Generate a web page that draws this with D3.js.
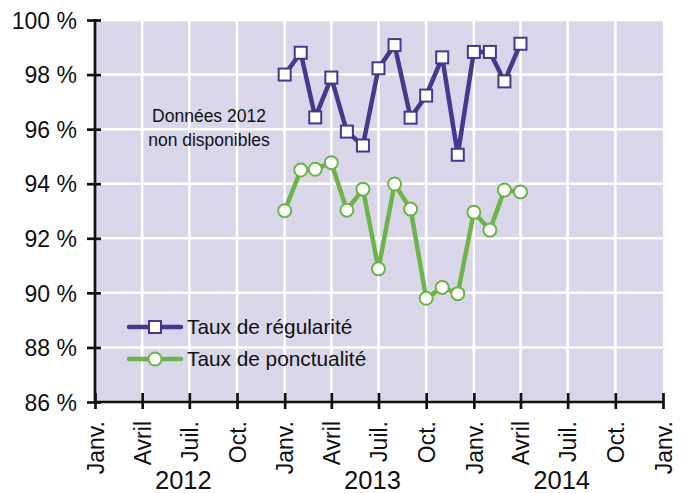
<!DOCTYPE html>
<html><head><meta charset="utf-8">
<script src="https://cdn.jsdelivr.net/npm/d3@7"></script>
<style>body{margin:0;background:#fff}svg{display:block;font-family:"Liberation Sans",Arial,sans-serif}</style>
</head><body><svg id="c" width="684" height="493"></svg>
<script>
const months = ["2013-01","2013-02","2013-03","2013-04","2013-05","2013-06","2013-07","2013-08","2013-09","2013-10","2013-11","2013-12","2014-01","2014-02","2014-03","2014-04"];
const regularite = [98.0,98.8,96.43,97.89,95.91,95.4,98.23,99.08,96.42,97.23,98.63,95.06,98.83,98.83,97.75,99.13];
const ponctualite = [93.01,94.5,94.53,94.77,93.03,93.8,90.88,93.99,93.07,89.8,90.2,89.97,92.95,92.3,93.77,93.7];
const yTicks = [86,88,90,92,94,96,98,100];
const quarterLabels = ["Janv.","Avril","Juil.","Oct."];
const years = [2012,2013,2014];
const seriesNames = ["Taux de régularité","Taux de ponctualité"];
const colors = ["#46378f","#6bb545"];

const svg = d3.select("#c");
const L=95,R=663,T=20,B=402;
const parse = d3.timeParse("%Y-%m");
const x = d3.scaleTime().domain([new Date(2012,0,1),new Date(2015,0,1)]).range([L,R]);
const y = d3.scaleLinear().domain([86,100]).range([B,T]);
const qTicks = d3.timeMonth.every(3).range(new Date(2012,0,1), new Date(2015,0,2));

svg.append("rect").attr("x",L).attr("y",T).attr("width",R-L).attr("height",B-T).attr("fill","#d9d6ea");
// grid
svg.append("g").selectAll("line").data(yTicks.slice(1)).join("line")
  .attr("x1",L).attr("x2",R).attr("y1",d=>y(d)).attr("y2",d=>y(d)).attr("stroke","#fff").attr("stroke-width",2.5);
svg.append("g").selectAll("line").data(qTicks.slice(1,-1)).join("line")
  .attr("y1",T).attr("y2",B).attr("x1",d=>x(d)).attr("x2",d=>x(d)).attr("stroke","#fff").attr("stroke-width",2.5);

// axes
const ya = svg.append("g").attr("transform",`translate(${L},0)`)
  .call(d3.axisLeft(y).tickValues(yTicks).tickFormat(d=>d+" %").tickSizeInner(8).tickSizeOuter(0).tickPadding(10));
ya.selectAll(".tick line").attr("stroke","#111").attr("stroke-width",2.7).attr("x2",-8).attr("x1",6);
ya.select(".domain").attr("stroke","#111").attr("stroke-width",2.7).attr("d",`M0,${T-1}V${B+1}`);
ya.selectAll("text").attr("font-size",23).attr("fill","#111").attr("font-family","Liberation Sans, Arial, sans-serif").attr("x",-18).attr("dy","0.36em");

const xa = svg.append("g").attr("transform",`translate(0,${B})`)
  .call(d3.axisBottom(x).tickValues(qTicks).tickFormat((d)=>quarterLabels[d.getMonth()/3]).tickSizeOuter(0));
xa.selectAll(".tick line").attr("stroke","#111").attr("stroke-width",2.7).attr("y1",-9).attr("y2",7);
xa.select(".domain").attr("stroke","#111").attr("stroke-width",2.7).attr("d",`M${L-1},0H${R+1}`);
xa.selectAll("text").attr("font-size",23).attr("fill","#111").attr("font-family","Liberation Sans, Arial, sans-serif")
  .attr("transform","rotate(-90)").attr("text-anchor","end").attr("x",-19).attr("y",0).attr("dy","0.36em");

svg.append("g").selectAll("text").data(years).join("text")
  .attr("x",d=>x(new Date(d,6,1))-6).attr("y",489).attr("text-anchor","middle")
  .attr("font-size",25.5).attr("fill","#111").text(d=>d);

// annotation
const ann = svg.append("text").attr("x",209).attr("text-anchor","middle").attr("font-size",17.5).attr("fill","#111");
ann.append("tspan").attr("x",209).attr("y",122).text("Données 2012");
ann.append("tspan").attr("x",209).attr("y",146).text("non disponibles");

const line = d3.line().x(d=>x(parse(d[0]))).y(d=>y(d[1]));
const data1 = months.map((m,i)=>[m,regularite[i]]);
const data2 = months.map((m,i)=>[m,ponctualite[i]]);

svg.append("path").datum(data1).attr("d",line).attr("fill","none").attr("stroke",colors[0]).attr("stroke-width",4.5).attr("stroke-linejoin","round");
svg.append("g").selectAll("rect").data(data1).join("rect")
  .attr("x",d=>x(parse(d[0]))-6).attr("y",d=>y(d[1])-6).attr("width",12).attr("height",12)
  .attr("fill","#fff").attr("stroke",colors[0]).attr("stroke-width",2);
svg.append("path").datum(data2).attr("d",line).attr("fill","none").attr("stroke",colors[1]).attr("stroke-width",4.5).attr("stroke-linejoin","round");
svg.append("g").selectAll("circle").data(data2).join("circle")
  .attr("cx",d=>x(parse(d[0]))).attr("cy",d=>y(d[1])).attr("r",6.5)
  .attr("fill","#fff").attr("stroke",colors[1]).attr("stroke-width",2);

// legend
const lg = svg.append("g");
seriesNames.forEach((name,i)=>{
  const yy = 327 + i*32;
  lg.append("line").attr("x1",129).attr("x2",181).attr("y1",yy).attr("y2",yy).attr("stroke",colors[i]).attr("stroke-width",4.5).attr("stroke-linecap","round");
  if(i===0) lg.append("rect").attr("x",149).attr("y",yy-6).attr("width",12).attr("height",12).attr("fill","#fff").attr("stroke",colors[i]).attr("stroke-width",2);
  else lg.append("circle").attr("cx",155).attr("cy",yy).attr("r",6.5).attr("fill","#fff").attr("stroke",colors[i]).attr("stroke-width",2);
  lg.append("text").attr("x",187).attr("y",yy).attr("dy","0.36em").attr("font-size",20.8).attr("fill","#111").text(name);
});
</script></body></html>
